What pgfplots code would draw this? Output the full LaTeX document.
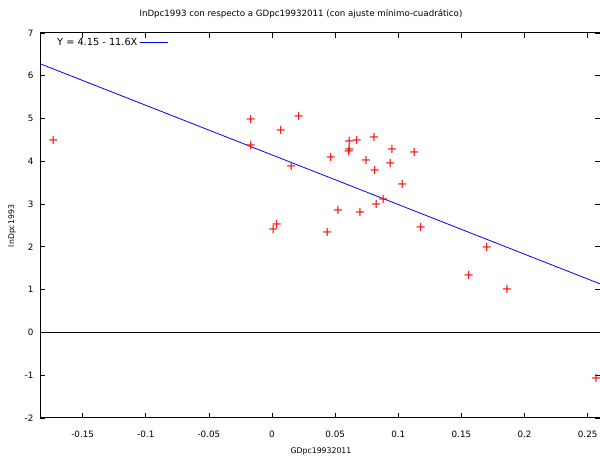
\documentclass[border=0pt]{standalone}
\usepackage{fontspec}
\setmainfont{DejaVu Sans}
\usepackage{pgfplots}
\pgfplotsset{compat=1.18}
\begin{document}
\begin{tikzpicture}[x=1bp,y=1bp,font=\fontsize{8.8}{10}\selectfont]
\path[use as bounding box] (0,0) rectangle (600,457);
\begin{axis}[
    at={(40bp,39bp)}, anchor=south west,
    scale only axis, width=560bp, height=385bp,
    xmin=-0.1838, xmax=0.2598,
    ymin=-2, ymax=7,
    xtick={-0.15,-0.1,-0.05,0,0.05,0.1,0.15,0.2,0.25},
    ytick={-2,-1,0,1,2,3,4,5,6,7},
    /pgf/number format/assume math mode=true,
    xticklabel style={/pgf/number format/fixed, /pgf/number format/precision=2, yshift=-9bp},
    yticklabel style={xshift=-3bp},
    tick align=inside,
    major tick length=5bp,
    axis line style={line width=1bp},
    tick style={black, line width=0.8bp},
    legend style={at={(0.025,0.995)}, anchor=north west, draw=none, fill=none,
        inner sep=1bp, font=\fontsize{9.8}{11}\selectfont},
    legend plot pos=right,
    legend cell align=right,
    legend image code/.code={\draw[blue, line width=1.2bp] (5bp,0bp) -- (33bp,0bp);},
]
% red crosses, set as a glyph so the colour holds
\addplot[only marks, forget plot, mark=text, text mark={\textcolor{red}{+}},
    text mark as node=true,
    text mark style={font=\fontsize{13}{13}\selectfont, inner sep=0pt, anchor=center}]
coordinates {
    (-0.1732, 4.50)
    (-0.0169, 4.97)
    (0.0069, 4.73)
    (0.0212, 5.06)
    (-0.0169, 4.37)
    (0.0153, 3.87)
    (0.0465, 4.10)
    (0.0612, 4.46)
    (0.0671, 4.50)
    (0.0612, 4.27)
    (0.0608, 4.22)
    (0.0808, 4.56)
    (0.0951, 4.28)
    (0.1127, 4.21)
    (0.0745, 4.01)
    (0.0937, 3.95)
    (0.0814, 3.78)
    (0.1032, 3.45)
    (0.0882, 3.12)
    (0.0010, 2.40)
    (0.0037, 2.53)
    (0.0438, 2.34)
    (0.0523, 2.86)
    (0.0697, 2.81)
    (0.0826, 3.00)
    (0.1178, 2.45)
    (0.1701, 1.99)
    (0.1558, 1.34)
    (0.1862, 1.00)
    (0.2567, -1.08)
};
\addplot[black, line width=0.8bp, forget plot]
coordinates {(-0.1838, 0) (0.2598, 0)};
\addplot[blue, line width=0.8bp]
coordinates {(-0.1838, 6.282) (0.2598, 1.136)};
\legend{Y = 4.15 - 11.6X}
\end{axis}
\node[font=\fontsize{8.7}{10}\selectfont] at (301,443) {lnDpc1993 con respecto a GDpc19932011 (con ajuste mínimo-cuadrático)};
\node[font=\fontsize{7.8}{9}\selectfont] at (321,6) {GDpc19932011};
\node[rotate=90, font=\fontsize{7.8}{9}\selectfont] at (12,231) {lnDpc1993};
\end{tikzpicture}
\end{document}
